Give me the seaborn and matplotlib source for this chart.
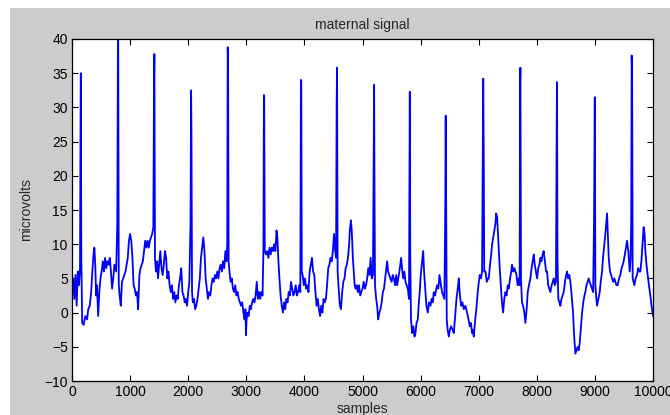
import matplotlib
matplotlib.use("Agg")
import matplotlib.pyplot as plt
from matplotlib.patches import Rectangle
import pandas as pd
import seaborn as sns

# trace, sample index vs value (10 points per row)
samples = [
    0, 20, 40, 60, 80, 100, 120, 138, 148, 152,
    160, 175, 200, 230, 260, 280, 305, 330, 350, 370,
    385, 400, 415, 430, 450, 470, 490, 510, 530, 550,
    570, 590, 610, 630, 650, 670, 690, 710, 730, 760,
    780, 790, 795, 805, 820, 840, 860, 880, 900, 920,
    940, 960, 980, 1000, 1020, 1040, 1060, 1080, 1100, 1120,
    1138, 1160, 1180, 1200, 1220, 1240, 1260, 1280, 1300, 1320,
    1340, 1360, 1380, 1400, 1412, 1418, 1428, 1445, 1465, 1480,
    1500, 1520, 1540, 1560, 1580, 1600, 1620, 1640, 1660, 1680,
    1700, 1720, 1740, 1760, 1780, 1800, 1820, 1840, 1860, 1880,
    1900, 1920, 1940, 1960, 1980, 2000, 2020, 2040, 2050, 2056,
    2066, 2080, 2100, 2120, 2140, 2160, 2180, 2200, 2220, 2240,
    2260, 2280, 2300, 2320, 2340, 2360, 2380, 2400, 2420, 2440,
    2460, 2480, 2500, 2520, 2540, 2560, 2580, 2600, 2620, 2640,
    2660, 2672, 2680, 2686, 2696, 2710, 2730, 2750, 2770, 2790,
    2810, 2830, 2850, 2870, 2890, 2910, 2930, 2950, 2970, 2985,
    2994, 3005, 3020, 3040, 3060, 3080, 3100, 3120, 3140, 3160,
    3180, 3200, 3220, 3240, 3260, 3280, 3295, 3303, 3308, 3318,
    3340, 3360, 3380, 3400, 3420, 3440, 3460, 3480, 3500, 3520,
    3535, 3550, 3570, 3590, 3610, 3630, 3650, 3670, 3690, 3710,
    3730, 3750, 3770, 3790, 3810, 3830, 3850, 3870, 3890, 3910,
    3930, 3940, 3946, 3955, 3970, 3990, 4010, 4030, 4050, 4070,
    4090, 4110, 4130, 4150, 4170, 4190, 4210, 4230, 4250, 4270,
    4290, 4310, 4330, 4350, 4370, 4390, 4410, 4430, 4450, 4470,
    4490, 4510, 4530, 4545, 4555, 4562, 4572, 4590, 4610, 4630,
    4650, 4670, 4690, 4710, 4730, 4750, 4770, 4782, 4800, 4815,
    4834, 4850, 4865, 4880, 4900, 4920, 4940, 4960, 4980, 5000,
    5020, 5040, 5060, 5080, 5100, 5120, 5140, 5160, 5180, 5192,
    5200, 5206, 5215, 5235, 5252, 5270, 5290, 5310, 5330, 5350,
    5370, 5390, 5410, 5424, 5440, 5460, 5480, 5500, 5520, 5540,
    5560, 5580, 5596, 5615, 5635, 5650, 5665, 5680, 5700, 5720,
    5740, 5760, 5780, 5800, 5808, 5814, 5822, 5835, 5854, 5875,
    5895, 5912, 5930, 5952, 5970, 5985, 5998, 6020, 6044, 6060,
    6084, 6100, 6124, 6145, 6170, 6190, 6210, 6227, 6250, 6270,
    6284, 6305, 6325, 6350, 6370, 6390, 6410, 6425, 6432, 6440,
    6450, 6465, 6485, 6505, 6525, 6550, 6571, 6595, 6617, 6640,
    6657, 6677, 6697, 6720, 6743, 6770, 6800, 6825, 6846, 6866,
    6886, 6900, 6915, 6940, 6960, 6973, 6995, 7018, 7040, 7058,
    7070, 7078, 7086, 7095, 7116, 7140, 7160, 7173, 7195, 7215,
    7231, 7250, 7270, 7288, 7300, 7317, 7335, 7346, 7365, 7385,
    7400, 7420, 7440, 7460, 7480, 7500, 7517, 7540, 7560, 7574,
    7595, 7615, 7632, 7650, 7670, 7689, 7705, 7712, 7718, 7728,
    7745, 7764, 7785, 7804, 7825, 7844, 7865, 7890, 7910, 7930,
    7947, 7965, 7985, 8005, 8025, 8045, 8062, 8080, 8100, 8119,
    8140, 8160, 8177, 8195, 8215, 8234, 8255, 8275, 8291, 8310,
    8330, 8342, 8348, 8356, 8370, 8390, 8406, 8425, 8445, 8463,
    8485, 8505, 8521, 8540, 8560, 8578, 8595, 8610, 8624, 8640,
    8655, 8664, 8685, 8704, 8720, 8738, 8760, 8779, 8800, 8820,
    8836, 8855, 8875, 8893, 8910, 8930, 8951, 8970, 8985, 8992,
    8998, 9008, 9025, 9037, 9060, 9083, 9100, 9123, 9140, 9163,
    9185, 9200, 9209, 9225, 9238, 9260, 9280, 9295, 9315, 9335,
    9352, 9372, 9392, 9415, 9438, 9460, 9480, 9495, 9515, 9535,
    9553, 9575, 9599, 9615, 9625, 9633, 9641, 9650, 9665, 9679,
    9700, 9725, 9745, 9765, 9782, 9800, 9820, 9839, 9855, 9868,
    9888, 9908, 9930, 9954, 9975, 10000,
]
microvolts = [
    3, 5, 2, 5.5, 1, 6, 4, 6.5, 30.2, 35,
    8.5, -1.5, -1.8, -0.5, -1, 0.5, 1, 3, 6, 8.5,
    9.5, 7, 2.5, 4, -0.5, 3, 5, 6, 7.5, 6,
    8, 6.5, 7.5, 7, 8, 6, 3.5, 5, 7, 6,
    13, 38, 40.5, 4, 2.5, 1, 4.5, 5, 5.5, 6,
    7, 8, 10.5, 11.5, 10.5, 8, 4, 3.5, 2.5, 3,
    0.5, 5.5, 6.5, 7, 7.5, 9, 10.5, 9.5, 10.5, 9.5,
    10.5, 11, 11.5, 12.5, 34, 37.8, 8, 6, 7.5, 5,
    7, 9, 6.5, 5.5, 7, 9, 8, 5, 6, 4,
    3, 4, 2, 3, 1.5, 2.5, 2, 4, 5, 6.5,
    3, 2.5, 1.5, 2, 1, 3, 4.5, 13, 32.5, 26.8,
    3, 1.5, 2, 0.5, 1, 2, 3.5, 5, 8, 9.5,
    11, 9, 5, 3.5, 2, 3, 2.5, 4, 5, 4.5,
    5.5, 5, 6, 5, 6.5, 7, 6, 7.5, 6.5, 9,
    7.5, 10, 38.8, 36.8, 7.5, 6, 4.5, 5, 3.5, 3,
    4, 2.5, 3, 2, 1.5, 1, 1.5, 0, -1, 0.5,
    -3.3, -1, 0, -0.5, 1, 0.5, 1.5, 2, 1.5, 2.5,
    4.5, 2, 3, 2, 3, 2.5, 9.5, 31.8, 31.5, 9,
    8.5, 9, 8, 9.5, 8.5, 9.5, 9, 10, 9, 12,
    11, 8, 5, 2.5, 1, 0, 1.5, 0.5, 2, 1.5,
    3, 2.5, 4.5, 3.5, 2.5, 3, 4, 2.5, 3, 4,
    3, 34, 34, 6, 5.5, 4, 5, 3.5, 4, 3,
    6, 7, 8, 6, 5.5, 3, 1, 2, 0.5, -0.5,
    1, 0, 2, 1.5, 2, 4, 6.5, 7, 8, 7.5,
    9, 11.5, 9, 8, 30.3, 35.8, 6, 3.5, 1, 0.5,
    3, 4.5, 5, 6.5, 7, 8, 10, 12, 13.5, 12,
    8, 6, 4, 3.5, 4, 3, 4, 2.5, 3, 3.5,
    4.5, 3.5, 4, 5, 6.5, 5.5, 8, 5, 5.5, 21.6,
    33.3, 19.5, 4, 2, 1, -1, 0, 0.5, 1.5, 3,
    3.5, 5, 6.5, 7.5, 6, 5.5, 5, 4.5, 5.5, 5,
    4, 5.5, 4, 5, 6, 7, 8, 6.5, 5, 6,
    4.5, 4, 3.5, 2, 19.3, 32.3, 8, -1, -3, -2,
    -3.5, -3, -1.5, -1, 1.5, 3, 5, 7, 9, 6,
    3, 1, 0, 1.5, 1, 2, 1.5, 3, 2.5, 3.5,
    4, 3.5, 5.5, 4, 3, 2.5, 2, 16, 28.8, 15.2,
    -1, -2.5, -3.5, -2.5, -2, -2.5, -3, -0.5, 2, 3.5,
    5, 2.5, 1, 1.5, 0.5, 1, 0, -1, -2, -1.5,
    -3, -2.5, -3.5, -1, 0.5, 2, 4, 5.5, 5, 6,
    22.8, 34.2, 24.5, 6, 6, 4.5, 5, 5, 7, 8.5,
    10, 11, 12, 13, 14.5, 14, 11, 9, 6, 3.5,
    1.5, 0, 2, 3, 2.5, 4, 3.5, 5, 6, 7,
    6, 6.5, 6, 5.5, 4, 5, 4, 33, 35.8, 5,
    1.5, 1, 0, -1.5, 0.5, 3, 4, 5, 6.5, 7.5,
    8.5, 7, 6, 5, 6.5, 7, 8, 7.5, 8.5, 9,
    7.5, 6, 6, 4, 3.5, 3, 4, 4.5, 5, 4,
    4.5, 27.2, 33.7, 8, 2, 1.5, 1, 2, 2.5, 3,
    4.5, 5.5, 6, 5, 5.5, 4.5, 3, 1.5, 0, -3,
    -5, -6, -5.5, -5, -5.5, -4.5, -2, 0, 1.5, 2.5,
    3, 4, 4.5, 5, 4.5, 4, 3.5, 3, 13.5, 22,
    31.5, 4, 2, 1, 2, 3, 4.5, 6, 8, 10,
    12, 13.5, 14.5, 11, 8, 6, 5.5, 5, 4.5, 5,
    4.5, 4, 4, 5, 5.5, 6.5, 7, 7.5, 8.5, 9.5,
    10.5, 9, 6, 8, 13.5, 37.6, 34, 5, 4.5, 4,
    5, 5.5, 6.5, 6, 6, 7.5, 10, 12.5, 11.5, 9,
    7, 5.5, 4, 2.5, 1, -0.5,
]
x_ticks = list(range(0, 10001, 1000))
y_ticks = list(range(-10, 41, 5))

df = pd.DataFrame({"samples": samples, "microvolts": microvolts})

sns.set_style("ticks")
plt.rcParams["font.family"] = ["Liberation Sans", "DejaVu Sans"]

fig = plt.figure(figsize=(6.7, 4.15), dpi=100, facecolor="white")
# matlab style grey figure background
fig.add_artist(Rectangle((10 / 670, 0), 1, 1 - 8 / 415, transform=fig.transFigure,
                         facecolor="#cccccc", edgecolor="none", zorder=0))
ax = fig.add_axes([72 / 670, 34 / 415, 581 / 670, 342 / 415])
ax.set_facecolor("white")

sns.lineplot(data=df, x="samples", y="microvolts", ax=ax, color="#0000ff",
             linewidth=1.3, sort=False, estimator=None)

ax.set_xlim(0, 10000)
ax.set_ylim(-10, 40)
ax.set_xticks(x_ticks)
ax.set_yticks(y_ticks)
ax.tick_params(direction="in", top=True, right=True, length=4, width=0.8,
               labelsize=10, pad=3, colors="black")
for s in ax.spines.values():
    s.set_color("black")
    s.set_linewidth(0.9)

ax.set_title("maternal signal", fontsize=10, pad=7)
ax.set_xlabel("samples", fontsize=10)
ax.set_ylabel("microvolts", fontsize=10)
ax.xaxis.set_label_coords(0.5, -0.06)
ax.yaxis.set_label_coords(-0.067, 0.5)

fig.savefig("out.png", dpi=100, facecolor=fig.get_facecolor())
